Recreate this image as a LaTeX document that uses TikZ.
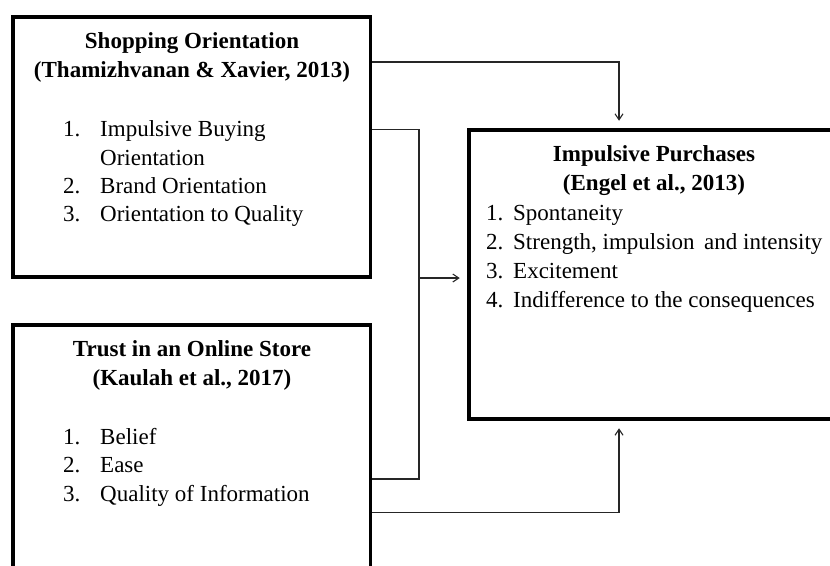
\documentclass[tikz,border=0pt]{standalone}
\usepackage{fontspec}
\setmainfont{Liberation Serif}
\usetikzlibrary{arrows.meta}
\begin{document}
\begin{tikzpicture}[x=1pt,y=-1pt,
  frame/.style={draw=black,line width=3.5pt,rectangle,inner sep=0pt},
  title/.style={font=\fontsize{23}{28}\selectfont\bfseries,anchor=base,inner sep=0pt},
  item/.style={font=\fontsize{23}{28}\selectfont,anchor=base west,inner sep=0pt},
  link/.style={draw=black!85,line width=1.2pt},
  arr/.style={link,-{Straight Barb[length=6pt,width=8pt,line width=1.1pt]},shorten >=7.5pt}]
\useasboundingbox (0,0) rectangle (830,565);

% the three boxes
\node[frame,minimum width=357.5pt,minimum height=260pt] (box1) at (191.75,147) {};
\node[frame,minimum width=357.5pt,minimum height=260pt] (box2) at (191.75,455) {};
\node[frame,minimum width=363pt,minimum height=289pt] (box3) at (650.5,274.5) {};

% Shopping Orientation
\node[title] (t1a) at (192,48.3) {Shopping Orientation};
\node[title] (t1b) at (192,77.3) {(Thamizhvanan \& Xavier, 2013)};
\node[item] (n11) at (63,136.7) {1.};
\node[item] (i11) at (100,136.7) {Impulsive Buying};
\node[item] (i11b) at (100,165) {Orientation};
\node[item] (n12) at (63,193.3) {2.};
\node[item] (i12) at (100,193.3) {Brand Orientation};
\node[item] (n13) at (63,221.7) {3.};
\node[item] (i13) at (100,221.7) {Orientation to Quality};

% Trust in an Online Store
\node[title] (t2a) at (192,356.7) {Trust in an Online Store};
\node[title] (t2b) at (192,385) {(Kaulah et al., 2017)};
\node[item] (n21) at (63,444) {1.};
\node[item] (i21) at (100,444) {Belief};
\node[item] (n22) at (63,472.7) {2.};
\node[item] (i22) at (100,472.7) {Ease};
\node[item] (n23) at (63,501) {3.};
\node[item] (i23) at (100,501) {Quality of Information};

% Impulsive Purchases
\node[title] (t3a) at (654,161) {Impulsive Purchases};
\node[title] (t3b) at (654,190) {(Engel et al., 2013)};
\node[item] (n31) at (486,220.7) {1.};
\node[item] (i31) at (513,220.7) {Spontaneity};
\node[item] (n32) at (486,249.5) {2.};
\node[item] (i32) at (513,249.5) {Strength, impulsion\, and intensity};
\node[item] (n33) at (486,278) {3.};
\node[item] (i33) at (513,278) {Excitement};
\node[item] (n34) at (486,307) {4.};
\node[item] (i34) at (513,307) {Indifference to the consequences};

% connector corners
\coordinate (c1) at (619,62);
\coordinate (c2) at (419,129.3);
\coordinate (c3) at (419,479);
\coordinate (c4) at (419,278);
\coordinate (c5) at (619,512.7);

% connectors
\draw[arr] (box1.east |- c1) -- (c1) -- (box3.north -| c1);
\draw[link] (box1.east |- c2) -- (c2) -- (c3) -- (box2.east |- c3);
\draw[arr] (c4) -- (box3.west |- c4);
\draw[arr] (box2.east |- c5) -- (c5) -- (box3.south -| c5);
\end{tikzpicture}
\end{document}
